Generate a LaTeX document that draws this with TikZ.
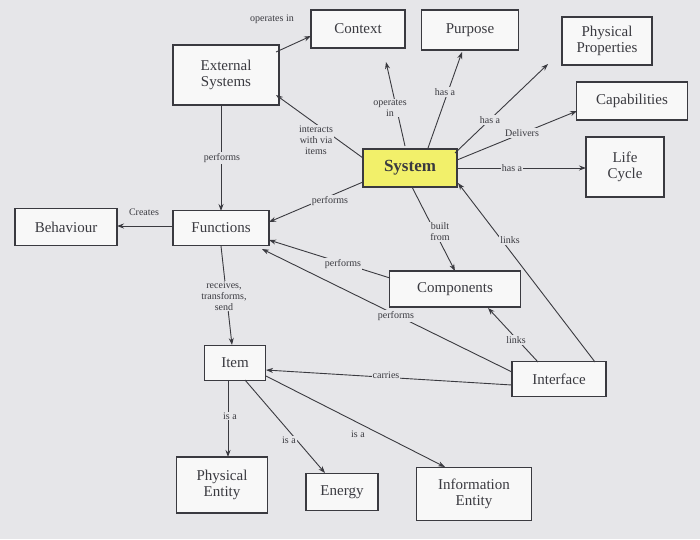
\documentclass[tikz,border=0pt]{standalone}
\usepackage{fontspec}
\setmainfont{Liberation Serif}
\usetikzlibrary{arrows.meta}
\definecolor{bg}{HTML}{E6E6E9}
\definecolor{ln}{HTML}{3A3A40}
\definecolor{sy}{HTML}{F2F06A}
\begin{document}
\begin{tikzpicture}[x=1pt,y=-1pt,
 box/.style={draw=ln,line width=1.1pt,fill=white!70!bg,font=\fontsize{15}{16}\selectfont,align=center,inner sep=0pt,text=ln},
 lab/.style={font=\fontsize{10}{11}\selectfont,align=center,fill=bg,inner sep=1pt,text=ln},
 ar/.style={draw=ln,line width=0.9pt,-{Stealth[length=7pt,width=5pt]}}]
\fill[bg] (0,0) rectangle (700,539);
\node[box,minimum width=94,minimum height=38] (ctx) at (358,29) {Context};
\node[box,minimum width=97,minimum height=40] (pur) at (470,30) {Purpose};
\node[box,minimum width=90,minimum height=48] (pp) at (607,41) {Physical\\Properties};
\node[box,minimum width=111,minimum height=38] (cap) at (632,101) {Capabilities};
\node[box,minimum width=78,minimum height=60] (lc) at (625,167) {Life\\Cycle};
\node[box,minimum width=106,minimum height=60] (ext) at (226,75) {External\\Systems};
\node[box,fill=sy,minimum width=94,minimum height=38,font=\fontsize{17}{18}\selectfont\bfseries] (sys) at (410,168) {System};
\node[box,minimum width=102,minimum height=37] (beh) at (66,227) {Behaviour};
\node[box,minimum width=96,minimum height=35] (fun) at (221,228) {Functions};
\node[box,minimum width=131,minimum height=36] (com) at (455,289) {Components};
\node[box,minimum width=61,minimum height=35] (item) at (235,363) {Item};
\node[box,minimum width=94,minimum height=35] (int) at (559,379) {Interface};
\node[box,minimum width=91,minimum height=56] (pe) at (222,485) {Physical\\Entity};
\node[box,minimum width=72,minimum height=37] (en) at (342,492) {Energy};
\node[box,minimum width=115,minimum height=53] (ie) at (474,494) {Information\\Entity};

\draw[ar] (276,52) -- (311,36);
\node[lab] at (272,19) {operates in};
\draw[ar] (405,146) -- (386,62);
\node[lab] at (390,108) {operates\\in};
\draw[ar] (428,148) -- (462,52);
\node[lab] at (445,92) {has a};
\draw[ar] (455,153) -- (548,64);
\node[lab] at (490,120) {has a};
\draw[ar] (457,160) -- (577,111);
\node[lab] at (522,133) {Delivers};
\draw[ar] (457,168) -- (586,168);
\node[lab] at (512,168) {has a};
\draw[ar] (363,158) -- (276,95);
\node[lab] at (316,140) {interacts\\with via\\items};
\draw[ar] (363,182) -- (269,222);
\node[lab] at (330,201) {performs};
\draw[ar] (412,187) -- (455,271);
\node[lab] at (440,232) {built\\from};
\draw[ar] (595,362) -- (458,183);
\node[lab] at (510,240) {links};
\draw[ar] (538,362) -- (488,308);
\node[lab] at (516,340) {links};
\draw[ar] (390,278) -- (269,240);
\node[lab] at (343,264) {performs};
\draw[ar] (512,372) -- (262,249);
\node[lab] at (396,316) {performs};
\draw[ar] (512,385) -- (266,370);
\node[lab] at (386,375) {carries};
\draw[ar] (221,105) -- (221,211);
\node[lab] at (222,158) {performs};
\draw[ar] (173,226) -- (117,226);
\node[lab] at (144,212) {Creates};
\draw[ar] (221,246) -- (232,345);
\node[lab] at (224,296) {receives,\\transforms,\\send};
\draw[ar] (228,380) -- (228,457);
\node[lab] at (230,416) {is a};
\draw[ar] (245,380) -- (325,473);
\node[lab] at (289,440) {is a};
\draw[ar] (266,376) -- (445,467);
\node[lab] at (358,434) {is a};
\end{tikzpicture}
\end{document}
